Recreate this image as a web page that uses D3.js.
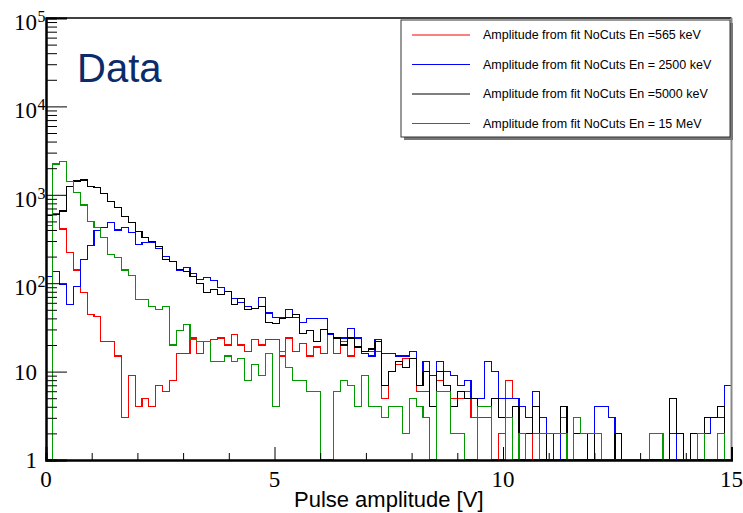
<!DOCTYPE html>
<html>
<head>
<meta charset="utf-8">
<script src="https://cdn.jsdelivr.net/npm/d3@7"></script>
<style>
  html, body { margin: 0; padding: 0; background: #fff; }
  svg { display: block; }
</style>
</head>
<body>
<svg id="chart" width="743" height="513"></svg>
<script>
// ---- Data (100 bins, 0.15 V wide, 0..15 V) ----
const binWidth = 0.15;
const seriesNames = [
  "Amplitude from fit NoCuts En =565 keV",
  "Amplitude from fit NoCuts En = 2500 keV",
  "Amplitude from fit NoCuts En =5000 keV",
  "Amplitude from fit NoCuts En = 15 MeV"
];
const seriesColors = ["#ff0000", "#0000ff", "#000000", "#009a00"];

const red565 = [
  450, 620, 410, 223, 141, 78, 44, 42, 22, 22,
  15, 3, 9, 4, 5, 4, 7, 6, 8, 16,
  16, 24, 16, 22, 23, 24, 20, 26, 20, 17,
  23, 20, 23, 23, 15, 24, 17, 21, 15, 19,
  16, 26, 16, 22, 15, 19, 17, 17, 17, 5,
  10, 12, 14, 14, 6, 6, 4, 8, 7, 5,
  5, 6, 3, 3, 3, 0, 2, 8, 5, 0,
  0, 2, 0, 0, 0, 3, 0, 0, 0, 0,
  0, 0, 0, 0, 0, 0, 0, 0, 0, 0,
  0, 0, 0, 0, 0, 0, 0, 0, 0, 0
];
const blue2500 = [
  120, 137, 97, 57, 91, 186, 264, 393, 428, 484,
  400, 428, 373, 277, 287, 287, 248, 200, 175, 139,
  150, 129, 109, 115, 107, 90, 80, 67, 60, 55,
  52, 69, 46, 41, 41, 50, 41, 36, 40, 40,
  40, 26, 24, 24, 31, 24, 16, 15, 23, 16,
  16, 15, 15, 17, 7, 13, 9, 13, 10, 9,
  7, 8, 5, 5, 13, 10, 5, 5, 5, 4,
  3, 6, 3, 0, 2, 0, 0, 0, 0, 0,
  4, 4, 3, 0, 0, 0, 0, 0, 2, 2,
  0, 2, 0, 0, 0, 0, 2, 3, 3, 7
];
const black5000 = [
  580, 600, 656, 1236, 1432, 1470, 1236, 1205, 1040, 836,
  722, 565, 484, 383, 330, 295, 259, 186, 175, 144,
  135, 119, 100, 78, 85, 75, 80, 57, 67, 50,
  52, 55, 36, 35, 40, 41, 44, 27, 29, 22,
  30, 27, 24, 20, 24, 19, 17, 18, 22, 7,
  10, 13, 11, 14, 7, 10, 4, 10, 7, 4,
  6, 5, 5, 4, 4, 5, 3, 3, 4, 0,
  2, 4, 0, 2, 2, 4, 0, 2, 2, 0,
  2, 0, 0, 2, 0, 0, 0, 0, 0, 0,
  0, 5, 2, 0, 2, 0, 3, 3, 4, 0
];
const green15MeV = [
  0, 2230, 2370, 1430, 1070, 767, 497, 429, 330, 212,
  196, 141, 122, 65, 65, 54, 51, 54, 20, 29,
  34, 23, 22, 22, 13, 13, 15, 13, 14, 8,
  12, 9, 16, 4, 17, 11, 8, 8, 6, 6,
  0, 0, 6, 8, 7, 4, 9, 4, 4, 3,
  4, 4, 2, 5, 4, 3, 0, 6, 6, 2,
  2, 0, 0, 4, 4, 0, 0, 3, 0, 2,
  0, 0, 2, 2, 2, 2, 0, 3, 2, 2,
  2, 0, 0, 0, 0, 0, 0, 0, 2, 2,
  0, 0, 0, 0, 0, 2, 0, 0, 2, 0
];
const seriesValues = [red565, blue2500, black5000, green15MeV];

const xTickMajor = [0, 5, 10, 15];
const xTickMinor = [1, 2, 3, 4, 6, 7, 8, 9, 11, 12, 13, 14];
const yExponents = [0, 1, 2, 3, 4, 5];
const xTitle = "Pulse amplitude [V]";
const annotation = "Data";

// ---- Layout ----
const L = 46, R = 731.5, T = 18, B = 460;
const svg = d3.select("#chart");
const x = d3.scaleLinear().domain([0, 15]).range([L, R]);
const y = d3.scaleLog().domain([1, 1e5]).range([B, T]);
const serif = "'Liberation Serif', 'Times New Roman', serif";
const sans = "'Liberation Sans', Arial, Helvetica, sans-serif";

// clip
svg.append("defs").append("clipPath").attr("id", "plotclip")
  .append("rect").attr("x", L).attr("y", T).attr("width", R - L).attr("height", B - T);

// histograms
const line = d3.line().x(d => x(d[0])).y(d => y(Math.max(1, d[1])));
const gH = svg.append("g").attr("clip-path", "url(#plotclip)");
seriesValues.forEach((vals, si) => {
  const pts = [];
  vals.forEach((v, i) => {
    pts.push([i * binWidth, v]);
    pts.push([(i + 1) * binWidth, v]);
  });
  gH.append("path").attr("d", line(pts))
    .attr("fill", "none").attr("stroke", seriesColors[si])
    .attr("stroke-width", 1.1).attr("shape-rendering", "crispEdges");
});

// frame top/right
svg.append("line").attr("x1", L).attr("x2", R).attr("y1", T).attr("y2", T)
  .attr("stroke", "#000").attr("stroke-width", 1.5);
svg.append("line").attr("x1", R).attr("x2", R).attr("y1", T).attr("y2", B)
  .attr("stroke", "#888").attr("stroke-width", 2);

// y axis ticks
const yMinor = [];
yExponents.slice(0, -1).forEach(e => { for (let k = 2; k <= 9; k++) yMinor.push(k * Math.pow(10, e)); });
const yMajor = yExponents.map(e => Math.pow(10, e));
const yAxMaj = svg.append("g").attr("transform", `translate(${L},0)`)
  .call(d3.axisLeft(y).tickValues(yMajor).tickSize(-21).tickFormat(""));
const yAxMin = svg.append("g").attr("transform", `translate(${L},0)`)
  .call(d3.axisLeft(y).tickValues(yMinor).tickSize(-11).tickFormat(""));
[yAxMaj, yAxMin].forEach(g => {
  g.select(".domain").attr("stroke", "#000").attr("stroke-width", 2);
  g.selectAll(".tick line").attr("stroke", "#000").attr("stroke-width", 1);
});

// x axis ticks
const xAxMaj = svg.append("g").attr("transform", `translate(0,${B})`)
  .call(d3.axisBottom(x).tickValues(xTickMajor).tickSize(-13).tickFormat(""));
const xAxMin = svg.append("g").attr("transform", `translate(0,${B})`)
  .call(d3.axisBottom(x).tickValues(xTickMinor).tickSize(-7).tickFormat(""));
[xAxMaj, xAxMin].forEach(g => {
  g.select(".domain").attr("stroke", "#000").attr("stroke-width", 2);
  g.selectAll(".tick line").attr("stroke", "#000").attr("stroke-width", 1);
});

// y labels
yExponents.forEach(e => {
  const yy = y(Math.pow(10, e));
  if (e === 0) {
    svg.append("text").attr("x", 37).attr("y", yy + 8).attr("text-anchor", "end")
      .attr("font-family", serif).attr("font-size", 23).text("1");
  } else if (e === 1) {
    svg.append("text").attr("x", 37).attr("y", yy + 8).attr("text-anchor", "end")
      .attr("font-family", serif).attr("font-size", 23).text("10");
  } else {
    svg.append("text").attr("x", 37).attr("y", yy + 12).attr("text-anchor", "end")
      .attr("font-family", serif).attr("font-size", 23).text("10");
    svg.append("text").attr("x", 37.5).attr("y", yy + 4).attr("text-anchor", "start")
      .attr("font-family", serif).attr("font-size", 16).text(String(e));
  }
});

// x labels
xTickMajor.forEach(v => {
  svg.append("text").attr("x", x(v)).attr("y", 487).attr("text-anchor", "middle")
    .attr("font-family", serif).attr("font-size", 23).text(String(v));
});
svg.append("text").attr("x", (L + R) / 2).attr("y", 507).attr("text-anchor", "middle")
  .attr("font-family", sans).attr("font-size", 22).attr("fill", "#000").text(xTitle);

// annotation
svg.append("text").attr("x", 77).attr("y", 82)
  .attr("font-family", sans).attr("font-size", 40).attr("fill", "#0b2b6b").text(annotation);

// legend
const lg = svg.append("g");
lg.append("rect").attr("x", 404).attr("y", 23).attr("width", 329).attr("height", 117).attr("fill", "#777");
lg.append("rect").attr("x", 401).attr("y", 20).attr("width", 329).attr("height", 117)
  .attr("fill", "#fff").attr("stroke", "#333").attr("stroke-width", 1);
const rowsY = [35, 64.5, 94, 123.5];
seriesNames.forEach((name, i) => {
  lg.append("line").attr("x1", 412).attr("x2", 470).attr("y1", rowsY[i]).attr("y2", rowsY[i])
    .attr("stroke", seriesColors[i]).attr("stroke-width", 1.1);
  lg.append("text").attr("x", 483).attr("y", rowsY[i]).attr("dy", "0.35em")
    .attr("font-family", sans).attr("font-size", 12.5).attr("fill", "#000").text(name);
});
</script>
</body>
</html>
